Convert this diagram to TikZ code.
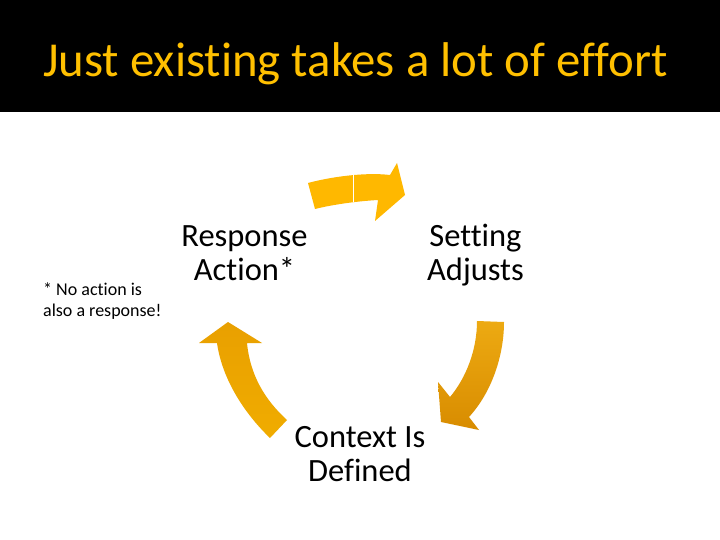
\documentclass[tikz,border=0pt]{standalone}
\usepackage{fontspec}
\setmainfont{Carlito}[Ligatures=NoCommon]
\definecolor{titlegold}{HTML}{FFC000}
\definecolor{arrowtop}{HTML}{FFB800}
\definecolor{arrowrighttop}{HTML}{EDAA12}
\definecolor{arrowrightbot}{HTML}{D88C00}
\definecolor{arrowlefttop}{HTML}{E9A000}
\definecolor{arrowleftbot}{HTML}{F0AC00}
\tikzset{
  titletext/.style={font=\fontsize{48.8}{52}\selectfont, text=titlegold, inner sep=0pt},
  lbl/.style={font=\fontsize{32.5}{34}\selectfont, align=center, inner sep=0pt, text=black},
  notetext/.style={font=\fontsize{18}{21}\selectfont, align=left, inner sep=0pt, text=black},
  cyclearrow/.style={draw=none}
}
\begin{document}
\begin{tikzpicture}[x=1pt,y=-1pt]
\useasboundingbox (0,0) rectangle (720,540);
\fill[white] (0,0) rectangle (720,540);
\fill[black] (0,0) rectangle (720,112);
\node[titletext, anchor=base west] (title) at (43,77) {Just existing takes a lot of effort};

% top arrow
\fill[arrowtop, cyclearrow] (308,183) .. controls (330,177) and (365,172) .. (390,175)
  -- (397,163) -- (405,195) -- (375,221) -- (378,200)
  .. controls (360,201) and (335,204) .. (315,209) -- cycle;
\draw[white, line width=0.8pt] (353,175.5) -- (353,202.5);

% right arrow
\path[cyclearrow, top color=arrowrighttop, bottom color=arrowrightbot]
  (477,321) -- (504,322) .. controls (504,355) and (492,392) .. (469,417)
  -- (479,430) -- (441,422) -- (438,382) -- (450,397)
  .. controls (466,378) and (477,350) .. (477,321) -- cycle;

% left arrow
\path[cyclearrow, top color=arrowlefttop, bottom color=arrowleftbot]
  (228,322) -- (262,343) -- (247,343) .. controls (250,375) and (265,400) .. (287,420)
  -- (270,438) .. controls (243,412) and (222,378) .. (217,343)
  -- (199,343) -- cycle;

\node[lbl, anchor=base] (response) at (244.5,280) {Response\\Action*};
\node[lbl, anchor=base] (setting) at (475.5,280) {Setting\\Adjusts};
\node[lbl, anchor=base] (context) at (360,481) {Context Is\\Defined};
\node[notetext, anchor=base west] (note) at (43,316) {* No action is\\also a response!};
\end{tikzpicture}
\end{document}
